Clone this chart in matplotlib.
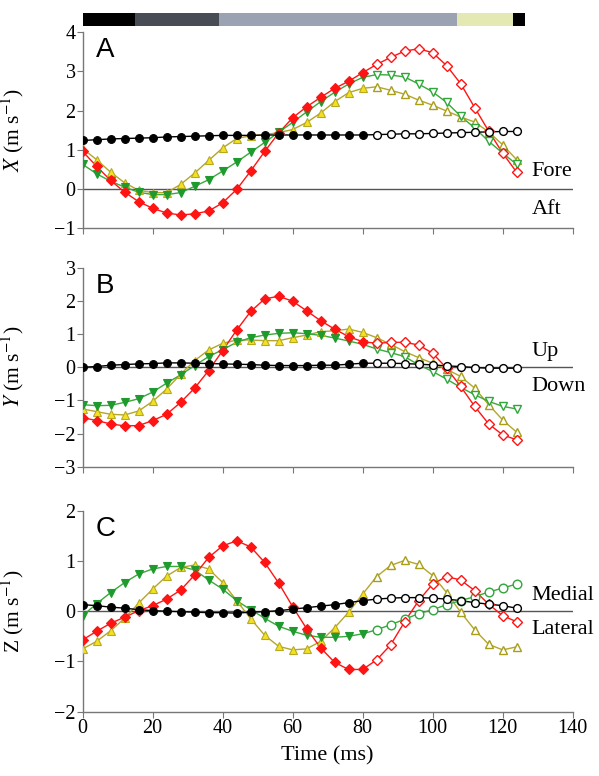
import numpy as np
import matplotlib
matplotlib.use('Agg')
from matplotlib import pyplot as plt

plt.rcParams['font.family'] = 'Liberation Serif'
plt.rcParams['mathtext.fontset'] = 'stix'

# time samples (ms); filled markers up to 80 ms, open after
t = np.arange(0, 128, 4)
n_filled = 21

x_black = [1.24, 1.26, 1.28, 1.29, 1.30, 1.31, 1.33, 1.34, 1.35, 1.36, 1.37, 1.37, 1.37, 1.38, 1.38, 1.38,
           1.38, 1.38, 1.38, 1.38, 1.38, 1.39, 1.40, 1.41, 1.41, 1.42, 1.43, 1.44, 1.45, 1.46, 1.47, 1.47]
x_red = [0.96, 0.58, 0.22, -0.08, -0.32, -0.49, -0.61, -0.66, -0.63, -0.56, -0.35, -0.01, 0.46, 0.96, 1.43, 1.82,
         2.10, 2.34, 2.57, 2.75, 2.97, 3.18, 3.36, 3.52, 3.58, 3.48, 3.15, 2.69, 2.08, 1.48, 0.92, 0.43]
x_green = [0.63, 0.39, 0.20, 0.05, -0.08, -0.14, -0.14, -0.09, 0.07, 0.24, 0.46, 0.69, 0.94, 1.19, 1.45, 1.70,
           1.97, 2.23, 2.47, 2.68, 2.85, 2.92, 2.91, 2.86, 2.68, 2.48, 2.21, 1.86, 1.56, 1.22, 0.92, 0.63]
x_yellow = [1.03, 0.75, 0.43, 0.16, -0.03, -0.09, -0.09, 0.12, 0.41, 0.73, 1.05, 1.29, 1.36, 1.39, 1.44, 1.52,
            1.70, 1.94, 2.23, 2.46, 2.57, 2.61, 2.52, 2.42, 2.27, 2.14, 1.99, 1.84, 1.71, 1.46, 1.13, 0.75]

y_black = [0.00, 0.02, 0.06, 0.08, 0.10, 0.11, 0.13, 0.13, 0.12, 0.11, 0.10, 0.09, 0.08, 0.06, 0.05, 0.05,
           0.05, 0.06, 0.06, 0.09, 0.12, 0.12, 0.12, 0.11, 0.09, 0.07, 0.04, 0.02, -0.01, -0.03, -0.03, -0.03]
y_red = [-1.52, -1.61, -1.71, -1.77, -1.76, -1.61, -1.42, -1.06, -0.63, -0.10, 0.50, 1.12, 1.68, 2.06, 2.14, 1.99,
         1.70, 1.40, 1.15, 0.92, 0.77, 0.72, 0.75, 0.75, 0.67, 0.42, -0.03, -0.58, -1.18, -1.71, -2.04, -2.19]
y_green = [-1.13, -1.16, -1.15, -1.06, -0.95, -0.75, -0.48, -0.23, 0.05, 0.32, 0.53, 0.75, 0.89, 0.97, 1.02, 1.04,
           1.01, 0.96, 0.88, 0.79, 0.69, 0.55, 0.44, 0.32, 0.07, -0.13, -0.36, -0.61, -0.83, -1.03, -1.18, -1.26]
y_yellow = [-1.26, -1.34, -1.42, -1.44, -1.32, -1.03, -0.66, -0.21, 0.20, 0.52, 0.72, 0.82, 0.82, 0.80, 0.80, 0.89,
            0.97, 1.07, 1.10, 1.15, 1.05, 0.89, 0.69, 0.47, 0.29, 0.12, -0.06, -0.28, -0.63, -1.13, -1.59, -1.96]

z_black = [0.13, 0.11, 0.08, 0.06, 0.03, 0.01, 0.00, -0.01, -0.02, -0.03, -0.03, -0.04, -0.02, -0.01, 0.01, 0.04,
           0.07, 0.10, 0.13, 0.17, 0.21, 0.24, 0.26, 0.27, 0.27, 0.26, 0.24, 0.21, 0.17, 0.14, 0.11, 0.06]
z_red = [-0.57, -0.40, -0.24, -0.12, 0.01, 0.11, 0.24, 0.42, 0.72, 1.07, 1.30, 1.40, 1.28, 0.97, 0.56, 0.09,
         -0.35, -0.73, -1.02, -1.16, -1.16, -0.97, -0.67, -0.21, 0.21, 0.54, 0.69, 0.62, 0.41, 0.14, -0.09, -0.21]
z_green = [-0.09, 0.15, 0.37, 0.57, 0.74, 0.84, 0.89, 0.89, 0.82, 0.62, 0.44, 0.21, 0.03, -0.14, -0.30, -0.40,
           -0.48, -0.52, -0.52, -0.50, -0.45, -0.37, -0.27, -0.16, -0.05, 0.03, 0.13, 0.21, 0.29, 0.38, 0.46, 0.54]
z_yellow = [-0.75, -0.60, -0.39, -0.14, 0.16, 0.44, 0.70, 0.87, 0.92, 0.84, 0.57, 0.21, -0.15, -0.48, -0.70, -0.77,
            -0.75, -0.60, -0.33, -0.02, 0.34, 0.69, 0.91, 1.01, 0.93, 0.71, 0.37, -0.02, -0.37, -0.66, -0.77, -0.71]

# phase bar along the top (start, end in ms)
bar_starts = [-1, 15, 39, 107, 123]
bar_ends = [15, 39, 107, 123, 126.5]
bar_colors = ['black', '#474c55', '#9ba3b3', '#e4e8b2', 'black']

panels = [
    ('A', r'$X$ (m s$^{-1}$)', (-1, 4), ('Fore', 'Aft'), (0.46, -0.52), x_black, x_red, x_green, x_yellow, 'v'),
    ('B', r'$Y$ (m s$^{-1}$)', (-3, 3), ('Up', 'Down'), (0.47, -0.58), y_black, y_red, y_green, y_yellow, 'v'),
    ('C', r'Z (m s$^{-1}$)', (-2, 2), ('Medial', 'Lateral'), (0.32, -0.37), z_black, z_red, z_green, z_yellow, 'o'),
]

red = '#ff1414'
green_line = '#3aa83a'
green = '#1f9a2e'
yel_line = '#b3a62a'
yel_face = '#f3e024'
yel_edge = '#b8aa1c'


def series(ax, vals, line_c, face_c, edge_c, marker, ms, open_marker=None, open_edge=None):
    vals = np.array(vals)
    ax.plot(t, vals, '-', color=line_c, lw=1, zorder=2)
    ax.plot(t[:n_filled], vals[:n_filled], linestyle='none', marker=marker, ms=ms,
            mfc=face_c, mec=edge_c, mew=0.8, zorder=3)
    ax.plot(t[n_filled:], vals[n_filled:], linestyle='none', marker=open_marker or marker, ms=ms,
            mfc='white', mec=open_edge or edge_c, mew=1.0, zorder=3)


fig = plt.figure(figsize=(5.99, 7.76), dpi=100)
boxes = [(0.7058, 0.2526), (0.3986, 0.2564), (0.0829, 0.2590)]
left, width = 0.138, 0.818

axes = []
for i, ((bottom, height), p) in enumerate(zip(boxes, panels)):
    letter, ylab, ylim, labs, labpos, blk, rd, gr, yl, green_open = p
    ax = fig.add_axes([left, bottom, width, height])
    ax.axhline(0, color='#555555', lw=1, zorder=1)
    series(ax, yl, yel_line, yel_face, yel_edge, '^', 6.2, open_edge='#a89e1a')
    series(ax, gr, green_line, green, green, 'v', 6.2, open_marker=green_open, open_edge='#2ea63a')
    series(ax, rd, red, red, red, 'D', 4.8)
    series(ax, blk, 'black', 'black', 'black', 'o', 5.6)
    ax.set_xlim(0, 140)
    ax.set_ylim(*ylim)
    ax.set_yticks(np.arange(ylim[0], ylim[1] + 1))
    ax.set_xticks(np.arange(0, 141, 20))
    for s in ['top', 'right']:
        ax.spines[s].set_visible(False)
    for s in ['left', 'bottom']:
        ax.spines[s].set_color('#777777')
        ax.spines[s].set_linewidth(1)
    ax.tick_params(direction='out', length=4, color='#777777', labelsize=14.5, pad=1)
    if i < 2:
        ax.tick_params(axis='x', labelbottom=False)
    ax.set_ylabel(ylab, fontsize=15.5)
    ax.yaxis.set_label_coords(-0.115, 0.5)
    ax.text(0.027, 0.975, letter, transform=ax.transAxes, ha='left', va='top',
            fontsize=20, family='Liberation Sans')
    ax.text(128.2, labpos[0], labs[0], ha='left', va='center', fontsize=16, clip_on=False)
    ax.text(128.2, labpos[1], labs[1], ha='left', va='center', fontsize=16, clip_on=False)
    axes.append(ax)

axes[-1].set_xlabel('Time (ms)', fontsize=16, labelpad=6)

bar_ax = fig.add_axes([left, 1 - 25.5 / 776, width, 12.5 / 776])
bar_ax.barh(0.5, np.array(bar_ends) - np.array(bar_starts), left=bar_starts, height=1,
            color=bar_colors, edgecolor='none')
bar_ax.set_xlim(0, 140)
bar_ax.set_ylim(0, 1)
bar_ax.axis('off')

fig.savefig('out.png', dpi=100)
